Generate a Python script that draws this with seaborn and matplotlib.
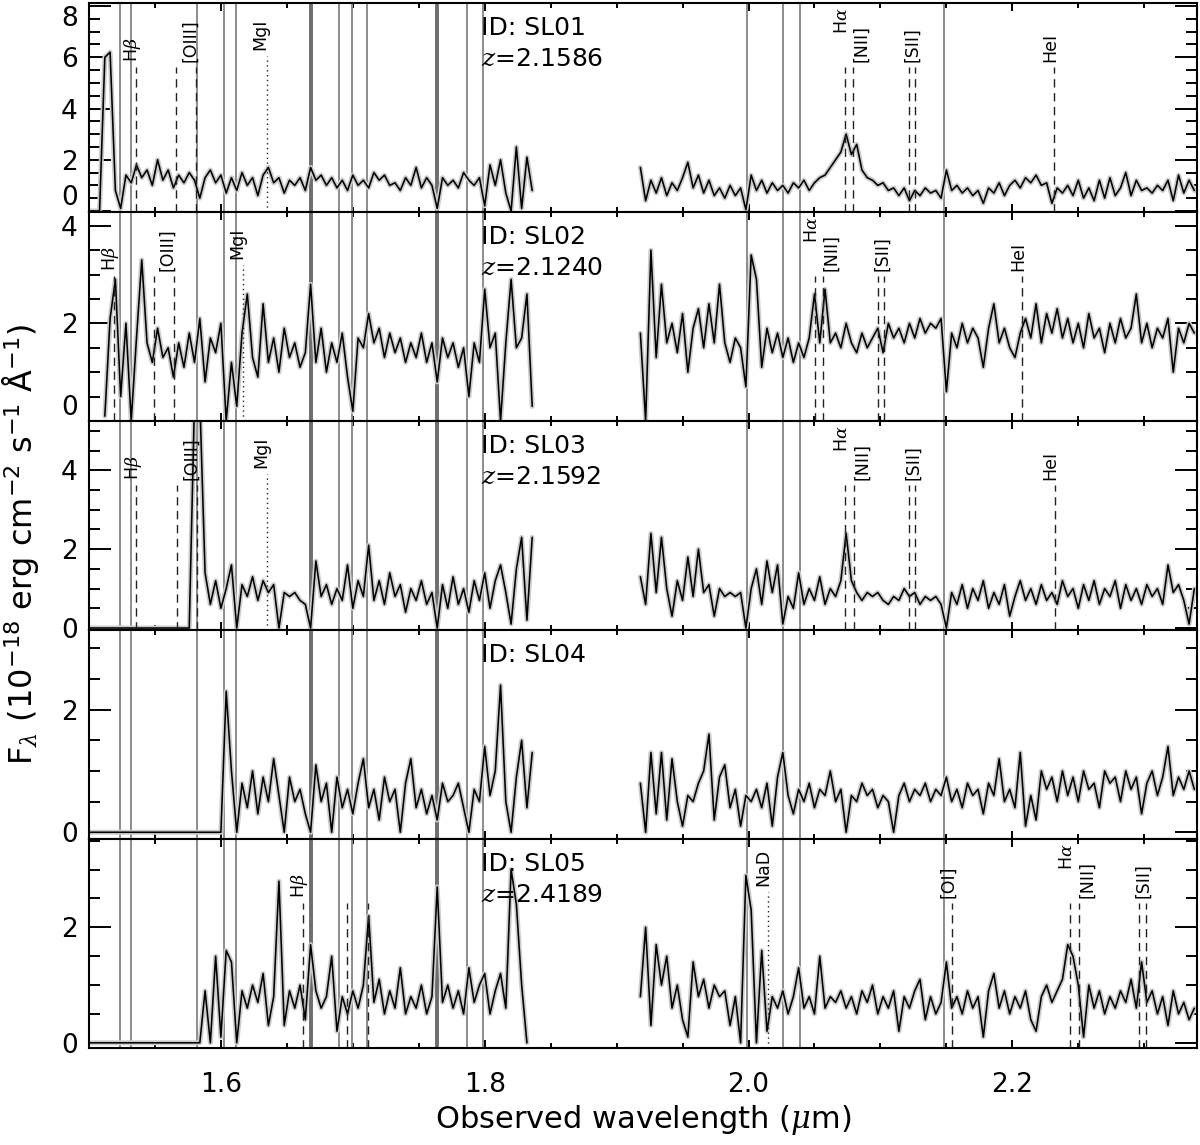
"""
Stacked near-IR spectra of the five SL targets, with sky lines and emission line markers.
"""

import matplotlib
matplotlib.use("Agg")
import matplotlib.pyplot as plt
from matplotlib.ticker import MultipleLocator
import numpy as np
import pandas as pd
import seaborn as sns

nan = np.nan

# Wavelength grids (micron) of the two spectral windows
WAVE_BLUE = np.round(np.arange(1.500, 1.8365, 0.004), 3)
WAVE_RED = np.round(np.arange(1.918, 2.3385, 0.004), 3)

IDS = ["SL01", "SL02", "SL03", "SL04", "SL05"]
REDSHIFTS = [2.1586, 2.1240, 2.1592, None, 2.4189]

# Flux in 1e-18 erg/cm2/s/A
SL01_BLUE = [0, 0, 0, 6.0, 6.2, 0.8, 0.1, 1.4, 1.1, 1.8,
             1.3, 1.6, 1.0, 2.0, 1.2, 1.6, 0.9, 1.4, 1.1, 1.5,
             1.2, 0.5, 1.3, 1.6, 1.1, 1.4, 0.7, 1.3, 0.8, 1.5,
             1.0, 1.3, 0.6, 1.4, 1.7, 1.1, 1.3, 0.7, 1.2, 1.0,
             1.3, 0.8, 1.7, 1.2, 1.4, 1.0, 1.3, 0.9, 1.2, 0.8,
             1.4, 1.0, 1.2, 0.9, 1.5, 1.2, 1.4, 1.0, 1.1, 0.8,
             1.3, 1.0, 1.7, 0.9, 1.3, 1.0, 0.1, 1.3, 1.0, 1.2,
             0.9, 1.5, 1.2, 1.0, 1.3, 0.2, 1.8, 1.0, 2.0, 0.7,
             0.0, 2.5, 0.1, 2.1, 0.8]
SL01_RED = [1.7, 0.4, 1.2, 0.7, 1.3, 0.6, 1.1, 0.8, 1.3, 1.9,
            0.9, 1.4, 0.7, 1.2, 0.6, 0.9, 0.5, 1.0, 0.6, 0.9,
            0.05, 1.4, 0.8, 1.2, 0.7, 1.1, 0.8, 1.0, 0.7, 1.1,
            0.9, 1.2, 0.8, 1.1, 1.3, 1.4, 1.7, 2.0, 2.3, 3.0,
            2.2, 2.6, 1.6, 1.3, 1.2, 1.0, 1.1, 0.8, 0.9, 0.6,
            0.9, 0.4, 0.8, 0.6, 0.9, 0.7, 0.8, 0.5, 1.6, 0.8,
            1.0, 0.7, 0.9, 0.6, 0.8, 0.3, 0.9, 0.7, 1.1, 0.6,
            1.0, 1.2, 0.9, 1.3, 1.1, 1.4, 1.0, 1.1, 0.3, 0.9,
            0.7, 1.0, 0.6, 1.2, 0.5, 0.9, 0.4, 1.2, 0.5, 1.3,
            0.6, 0.9, 1.5, 0.6, 1.2, 0.8, 0.9, 0.7, 1.0, 0.8,
            1.2, 0.4, 1.4, 0.7, 1.2, 0.8]

SL02_BLUE = [nan, nan, nan, 0.1, 2.1, 2.9, 0.5, 2.0, 0.0, 1.7,
             3.3, 1.6, 1.2, 1.9, 1.3, 1.5, 0.9, 1.6, 1.1, 1.8,
             1.2, 2.1, 0.8, 1.7, 1.4, 2.0, 0.0, 1.2, 0.3, 1.8,
             2.6, 1.3, 0.9, 2.4, 1.2, 1.7, 1.0, 1.9, 1.3, 1.6,
             1.1, 1.4, 2.8, 1.2, 1.9, 1.0, 1.6, 1.2, 1.8, 0.9,
             0.2, 1.7, 1.5, 2.2, 1.6, 1.9, 1.3, 1.8, 1.4, 1.7,
             1.2, 1.6, 1.3, 1.8, 1.2, 1.6, 0.8, 1.7, 1.3, 1.6,
             1.1, 1.5, 0.5, 1.6, 1.2, 2.7, 1.5, 1.8, 0.0, 1.6,
             2.9, 1.5, 1.7, 2.6, 0.3]
SL02_RED = [1.8, 0.0, 3.5, 1.3, 2.8, 1.6, 2.0, 1.4, 2.2, 1.0,
            1.9, 2.3, 1.5, 2.4, 1.6, 2.8, 1.6, 1.2, 1.7, 1.5,
            0.7, 3.4, 2.9, 1.1, 1.9, 1.4, 1.8, 1.3, 1.7, 1.2,
            1.6, 1.3, 1.7, 2.6, 1.6, 2.7, 1.6, 1.8, 1.5, 2.0,
            1.6, 1.4, 1.8, 1.5, 1.7, 1.9, 1.4, 2.0, 1.7, 1.9,
            1.6, 2.0, 1.7, 2.1, 1.8, 2.0, 1.9, 2.1, 0.6, 1.8,
            1.5, 2.0, 1.6, 1.9, 1.7, 1.1, 1.9, 2.4, 1.6, 1.9,
            1.5, 1.3, 1.8, 2.1, 1.7, 2.4, 1.6, 2.2, 1.8, 2.3,
            1.7, 2.1, 1.6, 2.0, 1.5, 2.2, 1.7, 1.9, 1.4, 2.0,
            1.6, 2.1, 1.7, 1.9, 2.6, 1.6, 2.0, 1.5, 1.9, 1.7,
            2.1, 1.0, 1.9, 1.6, 2.0, 1.8]

SL03_BLUE = [0, 0, 0, 0, 0, 0, 0, 0, 0, 0,
             0, 0, 0, 0, 0, 0, 0, 0, 0, 0,
             5.8, 5.8, 1.4, 0.6, 1.2, 0.5, 1.0, 1.6, 0.0, 1.1,
             0.8, 1.3, 0.7, 1.2, 0.9, 1.1, 0.0, 0.9, 0.8, 0.9,
             0.7, 0.6, 0.0, 1.7, 0.8, 1.1, 0.6, 1.0, 0.7, 1.6,
             0.5, 1.2, 0.8, 2.1, 0.7, 1.2, 0.6, 1.4, 0.8, 1.1,
             0.4, 1.0, 0.7, 1.2, 0.6, 0.9, 0.0, 1.1, 0.5, 1.3,
             0.6, 1.0, 0.4, 1.2, 0.7, 1.4, 0.5, 1.2, 1.6, 0.9,
             0.1, 1.5, 2.3, 0.2, 2.3]
SL03_RED = [1.3, 0.6, 2.4, 0.9, 2.3, 1.0, 0.3, 1.2, 0.7, 1.8,
            0.8, 2.0, 0.9, 1.1, 0.3, 1.0, 0.8, 0.9, 0.8, 0.9,
            0.0, 1.0, 1.5, 0.6, 1.7, 0.9, 1.6, 0.1, 0.8, 0.5,
            1.4, 0.6, 1.0, 0.7, 1.3, 0.6, 1.0, 0.8, 1.2, 2.4,
            1.2, 0.9, 0.7, 0.9, 0.8, 0.9, 0.7, 0.6, 0.8, 0.7,
            1.0, 0.8, 0.9, 0.6, 0.8, 0.7, 0.8, 0.6, 0.0, 0.9,
            0.6, 1.1, 0.5, 1.0, 0.7, 1.2, 0.5, 0.9, 0.6, 1.1,
            0.3, 0.8, 1.2, 0.7, 1.0, 0.6, 1.1, 0.7, 0.9, 0.6,
            1.2, 0.8, 1.0, 0.5, 1.1, 0.7, 1.2, 0.6, 1.0, 0.8,
            1.2, 0.5, 1.1, 0.7, 1.0, 0.6, 1.1, 0.8, 1.0, 0.6,
            1.6, 0.9, 1.1, 0.7, 0.1, 1.0]

SL04_BLUE = [0, 0, 0, 0, 0, 0, 0, 0, 0, 0,
             0, 0, 0, 0, 0, 0, 0, 0, 0, 0,
             0, 0, 0, 0, 0, 0,
             2.3, 1.0, 0.0, 0.8, 0.4, 1.0, 0.3, 0.9, 0.5, 1.2,
             0.6, 0.0, 0.9, 0.5, 0.7, 0.3, 0.0, 1.1, 0.5, 0.8,
             0.0, 0.9, 0.4, 0.7, 0.3, 0.8, 1.2, 0.4, 0.7, 0.2,
             0.9, 0.5, 0.7, 0.0, 0.8, 1.2, 0.4, 0.7, 0.3, 0.6,
             0.2, 0.8, 0.5, 0.6, 0.8, 0.4, 0.0, 0.7, 0.5, 1.4,
             0.6, 1.0, 2.4, 0.5, 0.0, 0.9, 1.5, 0.4, 1.3]
SL04_RED = [0.8, 0.0, 1.3, 0.3, 1.3, 0.2, 1.2, 0.5, 0.1, 0.6,
            0.5, 0.8, 1.0, 1.6, 0.2, 0.9, 1.1, 0.4, 0.7, 0.1,
            0.6, 0.5, 0.7, 0.4, 0.8, 0.1, 0.9, 1.3, 0.6, 0.3,
            0.7, 0.5, 0.8, 0.4, 0.7, 0.6, 1.0, 0.5, 0.7, 0.0,
            0.6, 0.5, 0.8, 0.6, 0.7, 0.4, 0.6, 0.5, 0.0, 0.6,
            0.8, 0.5, 0.7, 0.6, 0.8, 0.5, 0.7, 0.6, 0.9, 0.5,
            0.7, 0.4, 0.8, 0.6, 0.7, 0.3, 0.8, 0.6, 1.2, 0.5,
            0.7, 0.4, 1.3, 0.1, 0.6, 0.2, 1.0, 0.7, 0.9, 0.5,
            1.0, 0.6, 0.9, 0.5, 1.0, 0.7, 0.8, 0.4, 1.0, 0.8,
            0.9, 0.5, 1.0, 0.7, 0.9, 0.3, 0.8, 1.0, 0.6, 0.9,
            1.4, 0.6, 0.9, 0.7, 1.0, 0.7]

SL05_BLUE = [0, 0, 0, 0, 0, 0, 0, 0, 0, 0,
             0, 0, 0, 0, 0, 0, 0, 0, 0, 0,
             0, 0,
             0.9, 0.0, 1.5, 0.1, 1.6, 1.4, 0.0, 0.9, 0.6, 1.0,
             0.7, 1.2, 0.3, 0.8, 2.8, 0.3, 0.9, 0.6, 1.0, 0.4,
             1.7, 0.9, 0.6, 0.8, 1.5, 0.2, 0.8, 0.5, 0.9, 0.6,
             1.0, 2.2, 0.7, 1.1, 0.5, 0.9, 0.6, 1.3, 0.5, 0.8,
             0.6, 1.0, 0.5, 0.8, 2.7, 0.7, 1.0, 0.6, 0.9, 0.5,
             1.3, 0.7, 1.0, 1.2, 0.5, 0.9, 1.2, 0.6, 3.0, 2.4,
             1.0, 0.0, nan]
SL05_RED = [0.8, 2.0, 0.3, 1.7, 1.0, 1.5, 0.6, 1.0, 0.4, 0.1,
            1.4, 0.8, 1.1, 0.6, 1.0, 0.8, 0.9, 0.3, 0.8, 0.0,
            2.9, 2.3, 0.0, 1.6, 0.2, 0.8, 0.6, 0.9, 0.5, 0.8,
            1.3, 0.6, 0.8, 0.5, 1.5, 0.6, 0.8, 0.7, 0.9, 0.6,
            0.8, 0.5, 0.9, 0.7, 1.0, 0.5, 0.8, 0.6, 0.9, 0.2,
            0.8, 0.6, 0.9, 1.1, 0.4, 0.8, 0.5, 0.7, 1.4, 0.6,
            0.8, 0.5, 0.9, 0.6, 0.8, 0.1, 0.9, 1.2, 0.6, 0.9,
            0.5, 0.8, 0.6, 0.9, 0.4, 0.2, 0.8, 1.0, 0.7, 0.9,
            1.1, 1.7, 1.5, 1.0, 0.1, 1.0, 0.6, 0.9, 0.5, 0.8,
            0.6, 0.9, 0.7, 1.1, 0.6, 1.4, 0.7, 0.9, 0.5, 0.8,
            0.3, 0.9, 0.5, 0.7, 0.4, 0.6]

BLUE = [SL01_BLUE, SL02_BLUE, SL03_BLUE, SL04_BLUE, SL05_BLUE]
RED = [SL01_RED, SL02_RED, SL03_RED, SL04_RED, SL05_RED]

# Sky line positions (micron), drawn through every panel
SKY_LINES = [1.5235, 1.5318, 1.5818, 1.6023, 1.6114, 1.6682, 1.6894, 1.6992,
             1.7106, 1.7636, 1.7864, 1.7985, 1.9992, 2.0265, 2.0394, 2.1485]
SKY_STRONG = [1.6682, 1.7636]

# Rest-frame wavelengths (Angstrom)
REST = {"Hb": 4861.3, "O3a": 4958.9, "O3b": 5006.8, "Mg": 5175.0,
        "NaD": 5892.0, "O1": 6300.3, "Ha": 6562.8, "N2": 6583.4,
        "S2a": 6716.4, "S2b": 6730.8, "He": 7065.2}
LABELS = {"Hb": r"H$\beta$", "O3b": "[OIII]", "Mg": "MgI", "NaD": "NaD",
          "O1": "[OI]", "Ha": r"H$\alpha$", "N2": "[NII]", "S2a": "[SII]",
          "He": "HeI"}
DOTTED = ["Mg", "NaD"]

STD_LINES = ["Hb", "O3a", "O3b", "Mg", "Ha", "N2", "S2a", "S2b", "He"]
STD_LABELS = ["Hb", "O3b", "Mg", "Ha", "N2", "S2a", "He"]
PANEL_LINES = [STD_LINES, STD_LINES, STD_LINES, [],
               ["Hb", "O3a", "O3b", "NaD", "O1", "Ha", "N2", "S2a", "S2b"]]
PANEL_LABELS = [STD_LABELS, STD_LABELS, STD_LABELS, [],
                ["Hb", "NaD", "O1", "Ha", "N2", "S2a"]]

YLIMS = [(-0.04, 8.12), (0.0, 4.28), (-0.05, 5.25), (-0.11, 3.30), (-0.09, 3.53)]

# label nudges in pixels (x) and the extra lift of the Halpha label
LABEL_DX = {"Hb": -3, "O3b": -6, "Mg": -6, "NaD": -4, "O1": -3,
            "Ha": -3, "N2": 8, "S2a": 4, "He": -4}
LABEL_LIFT = {"Ha": 28}

sns.set_style("ticks")
plt.rcParams["font.family"] = ["DejaVu Sans"]
plt.rcParams["mathtext.fontset"] = "custom"
plt.rcParams["mathtext.rm"] = "DejaVu Sans"
plt.rcParams["mathtext.it"] = "DejaVu Serif:italic"
plt.rcParams["mathtext.bf"] = "DejaVu Sans:bold"
for key in ["text.color", "axes.labelcolor", "xtick.color", "ytick.color", "axes.edgecolor"]:
    plt.rcParams[key] = "black"

PX = 72 / 100  # points per pixel

fig, axes = plt.subplots(5, 1, figsize=(12, 11.45), dpi=100, sharex=True)
fig.subplots_adjust(left=89 / 1200, right=1197 / 1200, top=1 - 3 / 1145,
                    bottom=1 - 1048 / 1145, hspace=0)

for i, ax in enumerate(axes):
    # sky lines
    for w in SKY_LINES:
        strong = w in SKY_STRONG
        ax.axvline(w, color="#6e6e6e" if strong else "#8c8c8c",
                   lw=2.8 if strong else 1.4, zorder=1)

    # spectrum: light halo then black trace
    for wave, flux in ((WAVE_BLUE, BLUE[i]), (WAVE_RED, RED[i])):
        df = pd.DataFrame({"wave": wave, "flux": flux})
        sns.lineplot(data=df, x="wave", y="flux", ax=ax, color="#cccccc",
                     lw=3.6, estimator=None, sort=False, zorder=2)
        sns.lineplot(data=df, x="wave", y="flux", ax=ax, color="black",
                     lw=1.15, estimator=None, sort=False, zorder=3)

    # emission line markers
    z = REDSHIFTS[i]
    trans = ax.get_xaxis_transform()
    for key in PANEL_LINES[i]:
        x = REST[key] * (1 + z) / 1e4
        if key in DOTTED:
            ax.axvline(x, 0, 0.745, color="#222222", lw=1.0, ls=(0, (1, 2.5)), zorder=4)
        else:
            ax.axvline(x, 0, 0.695, color="#222222", lw=1.0, ls=(0, (6, 4)), zorder=4)
    for key in PANEL_LABELS[i]:
        x = REST[key] * (1 + z) / 1e4
        ytxt = 0.775 if key in DOTTED else 0.72
        ax.annotate(LABELS[key], xy=(x, ytxt), xycoords=trans,
                    xytext=(LABEL_DX[key] * PX, LABEL_LIFT.get(key, 0) * PX),
                    textcoords="offset points", rotation=90, ha="center",
                    va="bottom", fontsize=12.5, color="black", annotation_clip=False)

    # ID and redshift
    ax.text(1.7975, 0.845, f"ID: {IDS[i]}", transform=trans, fontsize=18,
            va="baseline", ha="left", zorder=5)
    if z is not None:
        ax.text(1.7975, 0.70, f"$z$={z:.4f}", transform=trans, fontsize=18,
                va="baseline", ha="left", zorder=5)

    ax.set_xlim(1.50, 2.34)
    ax.set_ylim(*YLIMS[i])
    ax.set_ylabel("")
    ax.set_xlabel("")
    ax.yaxis.set_major_locator(MultipleLocator(2))
    ax.yaxis.set_minor_locator(MultipleLocator(0.5))
    ax.xaxis.set_major_locator(MultipleLocator(0.2))
    ax.xaxis.set_minor_locator(MultipleLocator(0.05))
    ax.tick_params(axis="y", which="major", direction="in", length=15.5,
                   width=1.4, left=True, right=True, labelsize=19, pad=8)
    ax.tick_params(axis="y", which="minor", direction="in", length=8,
                   width=1.4, left=True, right=True)
    ax.tick_params(axis="x", which="major", direction="in", length=6,
                   width=1.4, top=True, bottom=True, labelsize=19, pad=17)
    ax.tick_params(axis="x", which="minor", direction="in", length=3.5,
                   width=1.4, top=True, bottom=True)
    for spine in ax.spines.values():
        spine.set_visible(True)
        spine.set_linewidth(1.5)
        spine.set_zorder(6)

axes[-1].set_xlabel(r"Observed wavelength ($\mu$m)", fontsize=22, labelpad=4)
fig.text(0.017, 0.524,
         r"F$_\lambda$ (10$^{-18}$ erg cm$^{-2}$ s$^{-1}$ $\mathrm{\AA}^{-1}$)",
         rotation=90, ha="center", va="center", fontsize=23)

# keep the end labels of the top two panels inside their own panel
fig.canvas.draw()
for i, ax in enumerate(axes[:2]):
    lo, hi = ax.get_ylim()
    for tick in ax.yaxis.get_major_ticks():
        if abs(tick.get_loc()) < 1e-9:
            tick.label1.set_va("bottom")
        elif i == 0 and abs(tick.get_loc() - 8) < 1e-9:
            tick.label1.set_va("top")

fig.savefig("out.png", dpi=100)
